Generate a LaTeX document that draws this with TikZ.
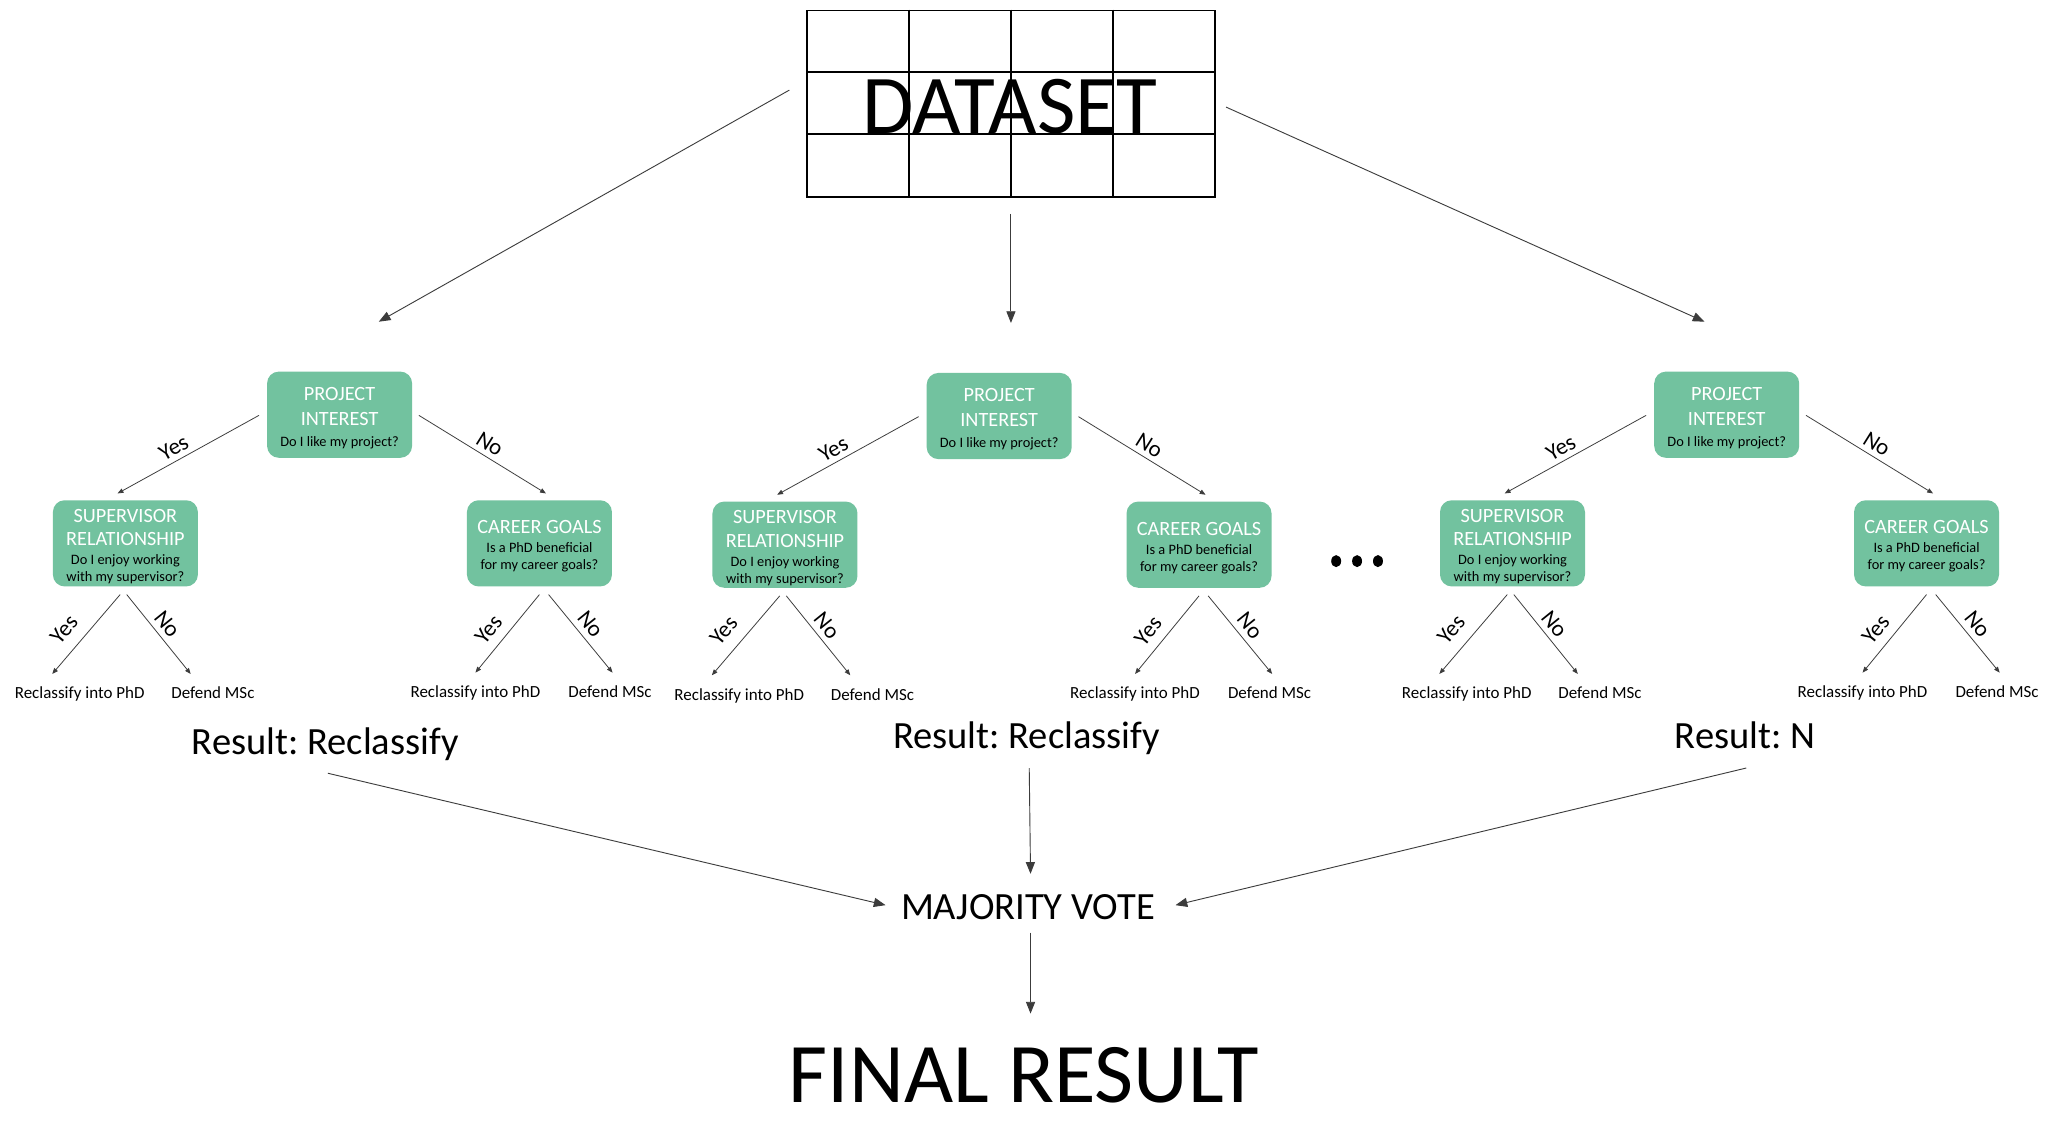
\documentclass[tikz,border=0pt]{standalone}
\usepackage{fontspec}
\setmainfont{Carlito}
\frenchspacing
\usetikzlibrary{arrows.meta,calc}
\definecolor{boxgreen}{RGB}{114,194,159}
\definecolor{linegray}{RGB}{60,60,60}
\newcommand\qs{\fontsize{11}{13}\selectfont\color{black}}
\newcommand\topstrut{\rule{0pt}{15pt}}
\tikzset{
  dbox/.style={fill=boxgreen, rounded corners=9pt, minimum width=111pt, minimum height=66pt,
    inner sep=0pt, align=center, font=\fontsize{15.5}{13}\selectfont, text=white},
  conn/.style={draw=linegray, line width=0.6pt, -{Triangle[length=4.5pt,width=3.5pt]}},
  bigarrow/.style={draw=linegray, line width=0.7pt, -{Triangle[length=9pt,width=7pt]}},
  leaf/.style={font=\fontsize{13}{15}\selectfont, anchor=base, inner sep=0pt},
  yn/.style={font=\fontsize{17.5}{19}\selectfont, inner sep=0pt},
  gridline/.style={line width=1.4pt, draw=black},
  restext/.style={font=\fontsize{29.5}{31}\selectfont, anchor=base, inner sep=0pt},
}
\begin{document}
\begin{tikzpicture}[x=1pt,y=-1pt]
\useasboundingbox[fill=white] (0,0) rectangle (1568,872.8);

% dataset table
\node[draw=black, line width=1.4pt, minimum width=312pt, minimum height=143pt, inner sep=0pt] (data) at (774,79.5) {};
\foreach \cx in {-78,0,78}{
  \draw[gridline] ($(data.north)+(\cx,0)$) -- ($(data.south)+(\cx,0)$);
}
\foreach \ry in {48,95}{
  \draw[gridline] ($(data.north west)+(0,\ry)$) -- ($(data.north east)+(0,\ry)$);
}
\node[font=\fontsize{64}{64}\selectfont, anchor=base, inner sep=0pt] (dstext) at (773,102) {DATASET};

% trees
\foreach \t/\dx/\dy in {1/0/0,2/505/1,3/1062/0}{
\begin{scope}[shift={(\dx,\dy)}]
  \node[dbox] (root\t) at (260,317.5) {\topstrut PROJECT\\[6pt]INTEREST\\[3pt]\qs Do I like my project?};
  \node[dbox] (sup\t) at (96,416) {\topstrut SUPERVISOR\\[5pt]RELATIONSHIP\\[1.5pt]\qs Do I enjoy working\\\qs with my supervisor?};
  \node[dbox] (car\t) at (413,416) {\topstrut CAREER GOALS\\[1.5pt]\qs Is a PhD beneficial\\\qs for my career goals?};
  \node[leaf] (la\t) at (61,535) {Reclassify into PhD};
  \node[leaf] (lb\t) at (163,535) {Defend MSc};
  \node[leaf] (lc\t) at (364,534) {Reclassify into PhD};
  \node[leaf] (ld\t) at (467,534) {Defend MSc};
  \draw[conn] ($(root\t.west)+(-6,0.5)$) -- ($(sup\t.north)+(-6,-5)$);
  \draw[conn] ($(root\t.east)+(5,0.5)$) -- ($(car\t.north)+(5,-5)$);
  \node[yn, rotate=29] (ya\t) at (133,343) {Yes};
  \node[yn, rotate=-32] (na\t) at (375,340) {No};
  \draw[conn] ($(sup\t.south)+(-4,6)$) -- ($(la\t.base)+(-21,-19)$);
  \draw[conn] ($(sup\t.south)+(1,6)$) -- ($(lb\t.base)+(-17,-19)$);
  \draw[conn] ($(car\t.south)+(0,6)$) -- ($(lc\t.base)+(0,-19)$);
  \draw[conn] ($(car\t.south)+(7,6)$) -- ($(ld\t.base)+(2,-19)$);
  \node[yn, rotate=50] (yb\t) at (49,482) {Yes};
  \node[yn, rotate=-51] (nb\t) at (128,478) {No};
  \node[yn, rotate=51] (yc\t) at (374,482) {Yes};
  \node[yn, rotate=-51] (nc\t) at (452,478) {No};
\end{scope}
}

% dots
\fill (1023,429.6) ellipse (3.8 and 4.6);
\fill (1039,429.6) ellipse (3.8 and 4.6);
\fill (1055,429.6) ellipse (3.8 and 4.6);

% dataset arrows
\draw[bigarrow] ($(data.west)+(-13,-10.5)$) -- ($(root1.north)+(30,-38)$);
\draw[bigarrow] ($(data.south)+(0,12)$) -- ($(root2.north)+(9,-38)$);
\draw[bigarrow] ($(data.east)+(8,2.5)$) -- ($(root3.north)+(-17,-38)$);

% results
\node[restext] (res1) at (249,578) {Result: Reclassify};
\node[restext] (res2) at (786,573) {Result: Reclassify};
\node[restext] (res3) at (1336,573) {Result: N};
\node[restext] (vote) at (787,704) {MAJORITY VOTE};
\node[font=\fontsize{65}{65}\selectfont, anchor=base, inner sep=0pt] (final) at (784,844) {FINAL RESULT};

\draw[bigarrow] ($(res1.base)+(2,14)$) -- ($(vote.base)+(-109,-11)$);
\draw[bigarrow] ($(res2.base)+(2,15)$) -- ($(vote.base)+(2,-35)$);
\draw[bigarrow] ($(res3.base)+(1,15)$) -- ($(vote.base)+(113,-11)$);
\draw[bigarrow] ($(vote.base)+(2,10)$) -- ($(final.base)+(5,-68)$);
\end{tikzpicture}
\end{document}
